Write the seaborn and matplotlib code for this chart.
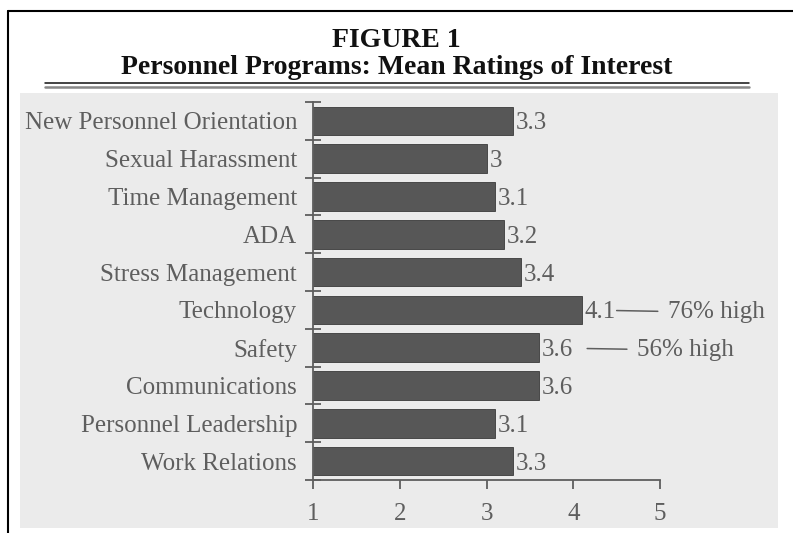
import numpy as np
import pandas as pd
import matplotlib
matplotlib.use("Agg")
import matplotlib.pyplot as plt
import seaborn as sns
from matplotlib.lines import Line2D
from matplotlib.patches import Rectangle

# ---------------- DATA ----------------
programs = [
    "New Personnel Orientation",
    "Sexual Harassment",
    "Time Management",
    "ADA",
    "Stress Management",
    "Technology",
    "Safety",
    "Communications",
    "Personnel Leadership",
    "Work Relations",
]
ratings = [3.3, 3.0, 3.1, 3.2, 3.4, 4.1, 3.6, 3.6, 3.1, 3.3]
value_labels = ["3.3", "3", "3.1", "3.2", "3.4", "4.1", "3.6", "3.6", "3.1", "3.3"]

note_programs = ["Technology", "Safety"]
note_texts = ["76% high", "56% high"]

x_ticks = [1, 2, 3, 4, 5]

df = pd.DataFrame({"program": programs, "rating": ratings})

# ---------------- STYLE ----------------
sns.set_theme(style="white")
plt.rcParams["font.family"] = ["Liberation Serif", "DejaVu Serif"]

paper = "#ebebeb"
ink = "#5e5e5e"
bar_color = "#575757"

fig = plt.figure(figsize=(7.93, 5.33), dpi=100)
W, H = 793, 533

# scanned grey area (behind the axes)
fig.add_artist(Rectangle((20 / W, 1 - 528 / H), 758 / W, 435 / H,
                         transform=fig.transFigure, facecolor=paper,
                         edgecolor="none", zorder=-10))

# page frame (top + left)
fig.add_artist(Line2D([8 / W, 1.0], [1 - 10.5 / H] * 2, color="black", lw=1.5))
fig.add_artist(Line2D([8 / W] * 2, [1 - 10.5 / H, 0], color="black", lw=1.5))

# double rule under the title
fig.add_artist(Line2D([45 / W, 749 / W], [1 - 82.5 / H] * 2, color="#111111", lw=1.1))
fig.add_artist(Line2D([45 / W, 749 / W], [1 - 86.5 / H] * 2, color="#888888", lw=1.8))

# ---------------- TITLE ----------------
fig.text(0.5, 1 - 47 / H, "FIGURE 1", ha="center", va="baseline",
         fontsize=20, fontweight="bold", color="#111111")
fig.text(0.5, 1 - 74 / H, "Personnel Programs: Mean Ratings of Interest",
         ha="center", va="baseline", fontsize=20, fontweight="bold",
         color="#111111")

# ---------------- BARS ----------------
ax = fig.add_axes([313 / W, 1 - 480 / H, 347 / W, 378 / H])
ax.set_facecolor("none")

sns.barplot(data=df, x="rating", y="program", order=programs,
            color=bar_color, saturation=1, width=0.76,
            edgecolor="#3a3a3a", linewidth=0.6, ax=ax)

ax.set_xlim(1, 5)
ax.set_ylim(len(programs) - 0.5, -0.5)
ax.set_xlabel("")
ax.set_ylabel("")

# value labels
texts = ax.bar_label(ax.containers[0], labels=value_labels, padding=2,
                     fontsize=18, color=ink)
for t in texts:
    t.set_va("center_baseline")

# notes with leader lines
note_text_off = [62, 71]
note_gap = [25, 35]
for name, txt, off, gap in zip(note_programs, note_texts, note_text_off, note_gap):
    i = programs.index(name)
    v = ratings[i]
    ax.annotate(txt, xy=(v, i), xytext=(off, 0), textcoords="offset points",
                ha="left", va="center_baseline", fontsize=18, color=ink,
                annotation_clip=False,
                arrowprops=dict(arrowstyle="-", color=ink, lw=1.1,
                                shrinkA=5, shrinkB=gap))

# ---------------- AXES ----------------
for side in ["top", "right"]:
    ax.spines[side].set_visible(False)
for side in ["left", "bottom"]:
    ax.spines[side].set_color(ink)
    ax.spines[side].set_linewidth(1.3)

ax.set_xticks(x_ticks)
ax.set_xticklabels([str(t) for t in x_ticks])
ax.tick_params(axis="x", direction="out", length=6.5, width=1.3,
               color=ink, labelsize=18, labelcolor=ink, pad=10, bottom=True)

ax.set_yticks(range(len(programs)), minor=False)
ax.set_yticks(np.arange(-0.5, len(programs), 1.0), minor=True)
ax.tick_params(axis="y", which="major", length=0, pad=11.5,
               labelsize=18, labelcolor=ink)
ax.tick_params(axis="y", which="minor", direction="inout", length=11,
               width=1.3, color=ink, left=True)

fig.savefig("out.png", dpi=100)
